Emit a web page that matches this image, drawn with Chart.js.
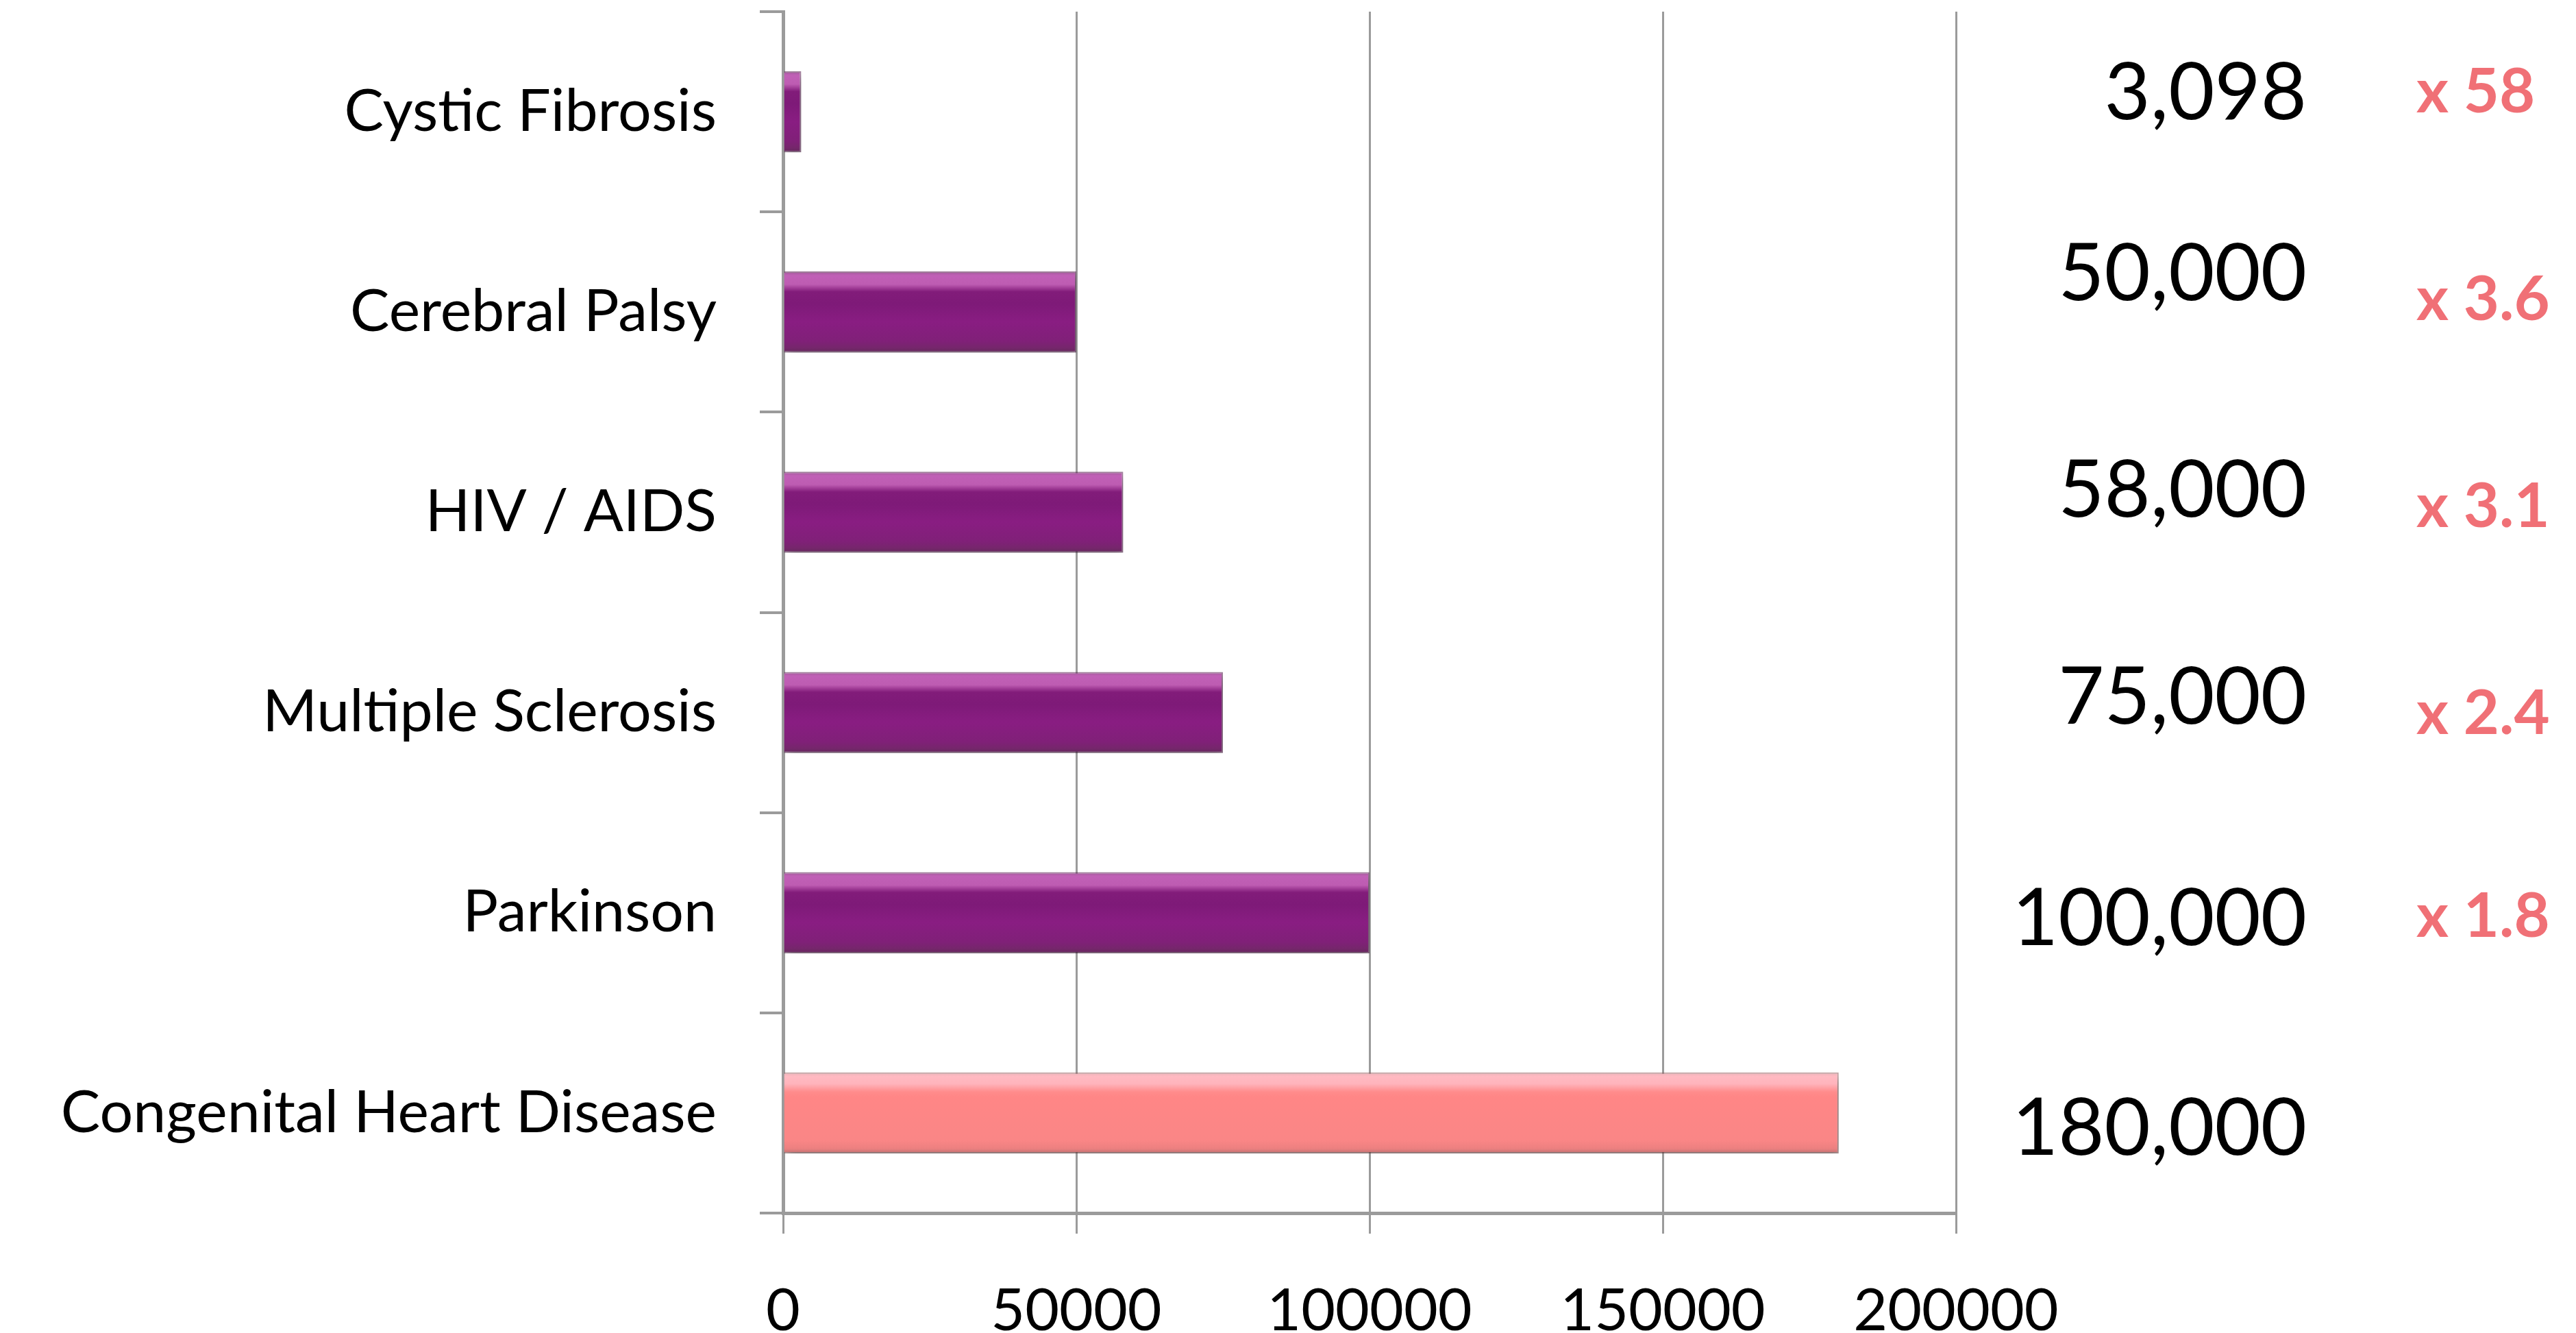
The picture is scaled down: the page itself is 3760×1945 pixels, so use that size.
<!DOCTYPE html>
<html>
<head>
<meta charset="utf-8">
<script src="https://cdn.jsdelivr.net/npm/chart.js@4/dist/chart.umd.min.js"></script>
<style>
  html, body { margin: 0; padding: 0; background: #ffffff; }
  canvas { display: block; }
</style>
</head>
<body>
<canvas id="chart" width="3760" height="1945"></canvas>
<script>
// Patients per disease, top row first
const categories = ['Cystic Fibrosis', 'Cerebral Palsy', 'HIV / AIDS', 'Multiple Sclerosis', 'Parkinson', 'Congenital Heart Disease'];
const patients = [3098, 50000, 58000, 75000, 100000, 180000];
const xTickValues = [0, 50000, 100000, 150000, 200000];
// The row every other row is compared against
const baselineCategory = 'Congenital Heart Disease';

// Layout / styling constants
const FONT = 'Lato, "Open Sans", sans-serif';
const GRID = '#9b9b9b';
const BAR_PCT = 0.405;
const valueNudge = [-31, -59, -35, -25, 5, 19];
const ratioNudge = [-31, -21, -11, -1, 3, 0];

const purpleStops = [
  [0.00, 'rgb(160,92,152)'],
  [0.05, 'rgb(192,96,182)'],
  [0.16, 'rgb(190,92,178)'],
  [0.25, 'rgb(130,28,122)'],
  [0.40, 'rgb(126,26,120)'],
  [0.62, 'rgb(137,29,130)'],
  [0.86, 'rgb(128,32,120)'],
  [0.94, 'rgb(118,38,108)'],
  [1.00, 'rgb(100,40,92)']
];
const pinkStops = [
  [0.00, 'rgb(232,178,184)'],
  [0.05, 'rgb(255,186,194)'],
  [0.14, 'rgb(255,180,188)'],
  [0.24, 'rgb(255,140,140)'],
  [0.30, 'rgb(255,134,134)'],
  [0.84, 'rgb(250,134,134)'],
  [0.94, 'rgb(236,128,128)'],
  [1.00, 'rgb(190,112,112)']
];

function isBaseline(i) { return categories[i] === baselineCategory; }

function barFill(context) {
  const chart = context.chart;
  const i = context.dataIndex;
  const stops = isBaseline(i) ? pinkStops : purpleStops;
  const area = chart.chartArea;
  const yScale = chart.scales.y;
  if (!area || !yScale || context.type !== 'data') return stops[4][1];
  const cy = yScale.getPixelForValue(i);
  const half = (area.height / categories.length) * BAR_PCT / 2;
  const g = chart.ctx.createLinearGradient(0, cy - half, 0, cy + half);
  stops.forEach(([o, c]) => g.addColorStop(o, c));
  return g;
}

function noScalePadding(scale) {
  scale.paddingTop = 0;
  scale.paddingBottom = 0;
  scale.paddingLeft = 0;
  scale.paddingRight = 0;
}

// Soft drop shadow under the bars
const barShadow = {
  id: 'barShadow',
  beforeDatasetsDraw(chart) {
    const ctx = chart.ctx;
    ctx.save();
    ctx.shadowColor = 'rgba(0,0,0,0.32)';
    ctx.shadowBlur = 14;
    ctx.shadowOffsetX = 3;
    ctx.shadowOffsetY = 8;
  },
  afterDatasetsDraw(chart) {
    chart.ctx.restore();
  }
};

// Patient counts and "x N" ratios to the right of the plot
const sideLabels = {
  id: 'sideLabels',
  afterDraw(chart) {
    const { ctx, chartArea, scales: { y } } = chart;
    const base = patients[categories.indexOf(baselineCategory)];
    const valueSize = 116, ratioSize = 90;
    ctx.save();
    ctx.textBaseline = 'alphabetic';
    categories.forEach((cat, i) => {
      const cy = y.getPixelForValue(i);
      ctx.font = `${valueSize}px ${FONT}`;
      ctx.fillStyle = '#000000';
      ctx.textAlign = 'right';
      ctx.fillText(patients[i].toLocaleString('en-US'), chartArea.right + 512, cy + valueNudge[i] + valueSize * 0.36);
      if (!isBaseline(i)) {
        const r = base / patients[i];
        const txt = 'x ' + (r >= 10 ? Math.round(r) : r.toFixed(1));
        ctx.font = `bold ${ratioSize}px ${FONT}`;
        ctx.fillStyle = 'rgb(240,112,118)';
        ctx.textAlign = 'left';
        ctx.fillText(txt, chartArea.right + 672, cy + ratioNudge[i] + ratioSize * 0.36);
      }
    });
    ctx.restore();
  }
};

new Chart(document.getElementById('chart'), {
  type: 'bar',
  data: {
    labels: categories,
    datasets: [{
      data: patients,
      backgroundColor: barFill,
      borderColor: (c) => isBaseline(c.dataIndex) ? 'rgba(150,95,95,0.55)' : 'rgba(90,30,80,0.55)',
      borderWidth: 2,
      borderSkipped: 'start',
      categoryPercentage: 1,
      barPercentage: BAR_PCT
    }]
  },
  options: {
    indexAxis: 'y',
    responsive: false,
    devicePixelRatio: 1,
    animation: false,
    layout: { padding: { top: 17, right: 905, bottom: 0, left: 0 } },
    plugins: {
      legend: { display: false },
      tooltip: { enabled: false },
      title: { display: false }
    },
    scales: {
      x: {
        type: 'linear',
        min: xTickValues[0],
        max: xTickValues[xTickValues.length - 1],
        afterBuildTicks: (scale) => { scale.ticks = xTickValues.map(v => ({ value: v })); },
        ticks: {
          callback: (v) => String(v),
          color: '#000000',
          font: { family: FONT, size: 86 },
          padding: 62,
          maxRotation: 0
        },
        grid: { color: GRID, lineWidth: 3, tickLength: 30, drawOnChartArea: true },
        border: { color: GRID, width: 5 },
        afterFit: (scale) => { scale.height = 175; noScalePadding(scale); }
      },
      y: {
        ticks: {
          color: '#000000',
          font: { family: FONT, size: 86 },
          padding: 63
        },
        grid: { color: GRID, lineWidth: 4, tickLength: 34, drawOnChartArea: false, offset: true },
        border: { color: GRID, width: 5 },
        afterFit: (scale) => { scale.width = 1143; noScalePadding(scale); }
      }
    }
  },
  plugins: [barShadow, sideLabels]
});
</script>
</body>
</html>
